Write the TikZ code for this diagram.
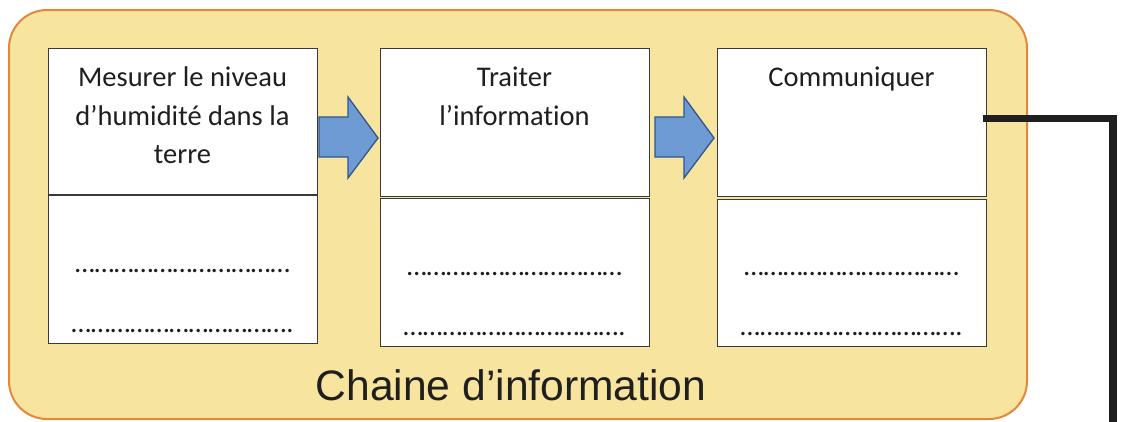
\documentclass[tikz,border=0pt]{standalone}
\usepackage{fontspec}
\setmainfont[Ligatures={NoCommon}]{Carlito}
\newfontfamily\arialfont{Liberation Sans}
\definecolor{panelfill}{HTML}{F7E49F}
\definecolor{panelline}{HTML}{E3873A}
\definecolor{arrowfill}{HTML}{6E9BD3}
\definecolor{arrowline}{HTML}{2E5690}
\definecolor{boxline}{HTML}{3A3A3A}
\definecolor{ink}{HTML}{1F1F1F}
\begin{document}
\begin{tikzpicture}[x=1pt,y=-1pt,
  panel/.style={draw=panelline,fill=panelfill,line width=2pt,rounded corners=38pt},
  cell/.style={draw=boxline,fill=white,line width=1.3pt,inner sep=0pt,minimum width=269pt},
  label/.style={text=ink,align=center,inner sep=0pt,font=\fontsize{28.5}{38.5}\selectfont},
  dots/.style={text=ink,inner sep=0pt,anchor=base,font=\fontsize{28.3}{30}\selectfont},
  bigarrow/.style={draw=arrowline,fill=arrowfill,line width=1.3pt,line join=miter},
  link/.style={draw=ink,line width=7.5pt,line join=miter}]
\useasboundingbox (0,0) rectangle (1121,421);
\draw[panel] (9,10) rectangle (1027,419);
% box 1 (single rectangle with divider)
\node[cell,minimum height=295pt,anchor=north west] (mes) at (48,48) {};
\draw[draw=boxline,line width=1.3pt] (mes.west |- 0,195) coordinate (mesdivl) -- (mes.east |- 0,195) coordinate (mesdivr);
% box 2
\node[cell,minimum height=148pt,anchor=north west] (trt) at (380,48) {};
\node[cell,minimum height=148pt,anchor=north west] (trtb) at (380,198) {};
% box 3
\node[cell,minimum height=147.5pt,anchor=north west] (com) at (717,48) {};
\node[cell,minimum height=147pt,anchor=north west] (comb) at (717,199) {};
% texts
\node[label,anchor=north] (t1) at (182.5,67) {Mesurer le niveau\\d’humidité dans la\\terre};
\node[label,anchor=north] (t2) at (514.5,67) {Traiter\\l’information};
\node[label,anchor=north] (t3) at (851.5,67) {Communiquer};
\node[dots] (d1a) at (182.5,272) {……………………………};
\node[dots] (d1b) at (182.5,332) {…………………………….};
\node[dots] (d2a) at (514.5,275) {……………………………};
\node[dots] (d2b) at (514.5,335) {…………………………….};
\node[dots] (d3a) at (851.5,275) {……………………………};
\node[dots] (d3b) at (851.5,335) {…………………………….};
\node[text=ink,anchor=base,inner sep=0pt,font=\arialfont\fontsize{42.6}{46}\selectfont] (title) at (511,400) {Chaine d’information};
% arrows
\draw[bigarrow] (319,117) -- (348,117) -- (348,97) -- (378,138) -- (348,178) -- (348,157) -- (319,157) -- cycle;
\draw[bigarrow] (655,117) -- (684,117) -- (684,97) -- (714,138) -- (684,178) -- (684,157) -- (655,157) -- cycle;
% connector
\coordinate (down) at (1113,425);
\draw[link] ([shift={(-4,-4)}]com.east) -| (down);
\end{tikzpicture}
\end{document}
